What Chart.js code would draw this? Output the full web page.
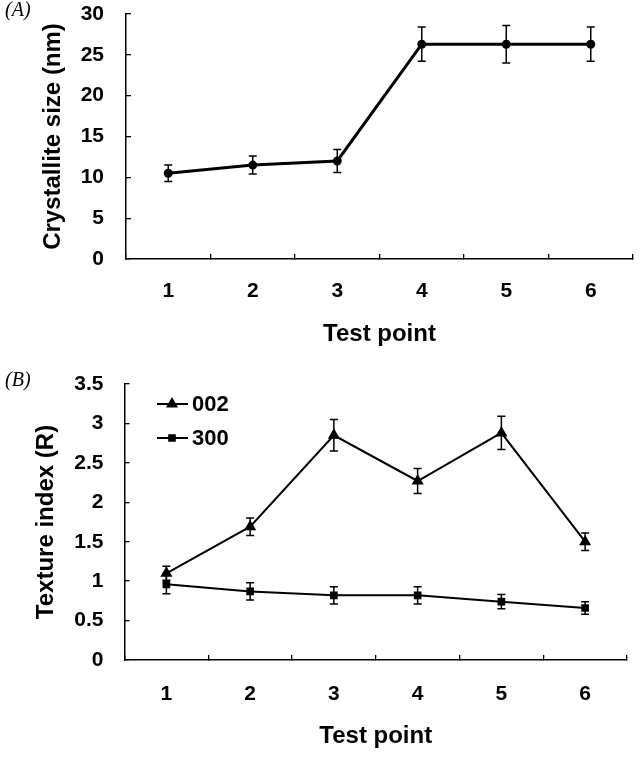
<!DOCTYPE html>
<html lang="en">
<head>
  <meta charset="UTF-8" />
  <title>Crystallite size and texture index</title>
  <style>
    body {
      margin: 0;
      background: #fff;
      width: 640px;
      height: 762px;
      position: relative;
      overflow: hidden;
    }
    canvas {
      position: absolute;
      left: 0;
    }
    #chartA { top: 0; }
    #chartB { top: 370px; }
    .panel {
      position: absolute;
      left: 5px;
      font-family: "Liberation Serif", "DejaVu Serif", serif;
      font-style: italic;
      font-size: 20px;
      color: #000;
      z-index: 2;
    }
  </style>
</head>
<body>
  <div class="panel" style="top:-2px;">(A)</div>
  <div class="panel" style="top:368px;">(B)</div>
  <canvas id="chartA" width="640" height="360"></canvas>
  <canvas id="chartB" width="640" height="392"></canvas>

  <script src="https://cdn.jsdelivr.net/npm/chart.js"></script>
  <script>
    // data
    const testPoints = ["1", "2", "3", "4", "5", "6"];

    const crystalliteSize = [10.5, 11.5, 12, 26.3, 26.3, 26.3];
    const crystalliteErr = [1.0, 1.1, 1.4, 2.1, 2.3, 2.1];

    const texture002 = [1.1, 1.69, 2.85, 2.27, 2.88, 1.5];
    const texture002Err = [0.09, 0.11, 0.2, 0.16, 0.21, 0.11];
    const texture300 = [0.96, 0.87, 0.82, 0.82, 0.74, 0.66];
    const texture300Err = [0.12, 0.11, 0.11, 0.11, 0.09, 0.08];

    const sizeTicks = { min: 0, max: 30, step: 5 };
    const textureTicks = { min: 0, max: 3.5, step: 0.5 };

    const FONT = "'Liberation Sans', Arial, sans-serif";

    // error bars, drawn through the y scale
    const errorBars = {
      id: "errorBars",
      afterDatasetsDraw(chart) {
        const ctx = chart.ctx;
        const yScale = chart.scales.y;
        ctx.save();
        ctx.strokeStyle = "#000";
        ctx.lineWidth = 1.5;
        chart.data.datasets.forEach((ds, i) => {
          const meta = chart.getDatasetMeta(i);
          meta.data.forEach((pt, j) => {
            const e = ds.errors[j];
            const yTop = yScale.getPixelForValue(ds.data[j] + e);
            const yBot = yScale.getPixelForValue(ds.data[j] - e);
            const x = pt.x;
            ctx.beginPath();
            ctx.moveTo(x, yTop); ctx.lineTo(x, yBot);
            ctx.moveTo(x - 4, yTop); ctx.lineTo(x + 4, yTop);
            ctx.moveTo(x - 4, yBot); ctx.lineTo(x + 4, yBot);
            ctx.stroke();
          });
        });
        ctx.restore();
      }
    };

    // legend in the upper left of the plot (panel B)
    const insideLegend = {
      id: "insideLegend",
      afterDraw(chart) {
        const ctx = chart.ctx;
        ctx.save();
        chart.data.datasets.forEach((ds, i) => {
          const y = 34 + i * 34;
          ctx.strokeStyle = "#000";
          ctx.lineWidth = 2;
          ctx.beginPath();
          ctx.moveTo(157, y); ctx.lineTo(188, y);
          ctx.stroke();
          ctx.fillStyle = "#000";
          Chart.helpers.drawPoint(ctx, { pointStyle: ds.pointStyle, radius: ds.pointRadius, rotation: 0, borderWidth: 1 }, 172, y);
          ctx.font = "bold 22px " + FONT;
          ctx.textBaseline = "middle";
          ctx.textAlign = "left";
          ctx.fillText(ds.label, 192, y + 1);
        });
        ctx.restore();
      }
    };

    function axes(yTicks, yTitle, yWidth, xHeight, yTitlePad, xLabelPad, yLabelPad) {
      return {
        x: {
          type: "category",
          offset: true,
          grid: { offset: true, drawOnChartArea: false, color: "#000", lineWidth: 1.3, tickLength: -5 },
          border: { color: "#000", width: 1.5 },
          ticks: { color: "#000", font: { family: FONT, size: 21, weight: "bold" }, padding: xLabelPad, maxRotation: 0 },
          title: { display: true, text: "Test point", color: "#000",
                   font: { family: FONT, size: 24, weight: "bold" }, padding: { bottom: 11 } },
          afterFit: s => { s.height = xHeight; s.paddingLeft = 0; s.paddingRight = 0; }
        },
        y: {
          min: yTicks.min,
          max: yTicks.max,
          grid: { drawOnChartArea: false, color: "#000", lineWidth: 1.3, tickLength: -5 },
          border: { color: "#000", width: 1.5 },
          ticks: { stepSize: yTicks.step, color: "#000", font: { family: FONT, size: 21, weight: "bold" }, padding: yLabelPad,
                   callback: v => String(v) },
          title: { display: true, text: yTitle, color: "#000",
                   font: { family: FONT, size: 24, weight: "bold" }, padding: { top: yTitlePad } },
          afterFit: s => { s.width = yWidth; s.paddingTop = 0; s.paddingBottom = 0; }
        }
      };
    }

    // (A) crystallite size
    new Chart(document.getElementById("chartA"), {
      type: "line",
      data: {
        labels: testPoints,
        datasets: [{
          label: "Crystallite size",
          data: crystalliteSize,
          errors: crystalliteErr,
          borderColor: "#000",
          backgroundColor: "#000",
          borderWidth: 3,
          pointStyle: "circle",
          pointRadius: 3,
          tension: 0
        }]
      },
      options: {
        responsive: false,
        animation: false,
        devicePixelRatio: 1,
        layout: { padding: { top: 14, right: 2, left: 0, bottom: 0 } },
        plugins: { legend: { display: false }, tooltip: { enabled: false } },
        scales: axes(sizeTicks, "Crystallite size (nm)", 126, 101, 39, 25, 27)
      },
      plugins: [errorBars]
    });

    // (B) texture index
    new Chart(document.getElementById("chartB"), {
      type: "line",
      data: {
        labels: testPoints,
        datasets: [{
          label: "002",
          data: texture002,
          errors: texture002Err,
          borderColor: "#000",
          backgroundColor: "#000",
          borderWidth: 2,
          pointStyle: "triangle",
          pointRadius: 5,
          tension: 0
        }, {
          label: "300",
          data: texture300,
          errors: texture300Err,
          borderColor: "#000",
          backgroundColor: "#000",
          borderWidth: 2,
          pointStyle: "rect",
          pointRadius: 4,
          tension: 0
        }]
      },
      options: {
        responsive: false,
        animation: false,
        devicePixelRatio: 1,
        layout: { padding: { top: 14, right: 13, left: 0, bottom: 0 } },
        plugins: { legend: { display: false }, tooltip: { enabled: false } },
        scales: axes(textureTicks, "Texture index (R)", 124.5, 102, 32, 27, 26)
      },
      plugins: [errorBars, insideLegend]
    });
  </script>
</body>
</html>
